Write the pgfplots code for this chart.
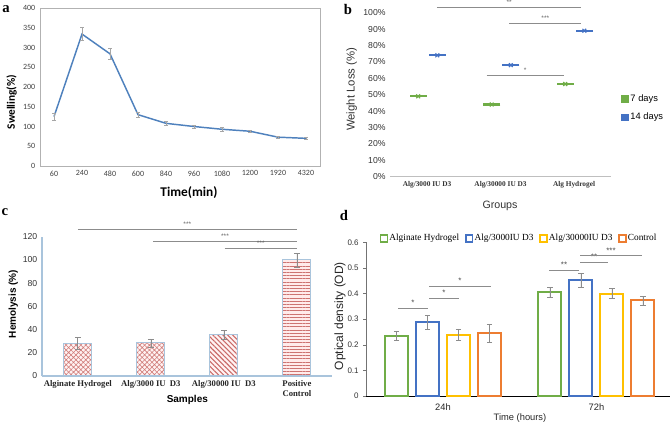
\documentclass[border=0pt]{standalone}
\usepackage{fontspec}
\setmainfont{Liberation Serif}
\newfontfamily\arial{Liberation Sans}
\newfontfamily\calibri{Carlito}
\usepackage{pgfplots}
\pgfplotsset{compat=1.18}
\usetikzlibrary{patterns.meta}
\definecolor{xlblue}{HTML}{4F81BD}
\definecolor{cgreen}{HTML}{70AD47}
\definecolor{cblue}{HTML}{4472C4}
\definecolor{cyellow}{HTML}{FFC000}
\definecolor{corange}{HTML}{ED7D31}
\definecolor{cred}{HTML}{C0504D}
\definecolor{cbord}{HTML}{A9C4DC}
\definecolor{sig}{HTML}{8C8C8C}
\pgfplotsset{sqlegend/.style={legend image code/.code={\draw[##1] (0pt,-2.5pt) rectangle (5pt,2.5pt);}}}
\begin{document}
\begin{tikzpicture}
\path[use as bounding box] (0,0) rectangle (504pt,319.5pt);

% ---------------- Panel a ----------------
\begin{axis}[
  at={(30pt,195pt)}, anchor=south west, scale only axis,
  width=210pt, height=118.5pt,
  xmin=-0.5, xmax=9.5, ymin=0, ymax=400,
  xtick={0,...,9},
  xticklabels={60,240,480,600,840,960,1080,1200,1920,4320},
  ytick={0,50,...,400},
  major tick length=0pt,
  axis line style={black!30},
  tick label style={font=\calibri\fontsize{6}{7}\selectfont, text=black!75},
  /pgf/number format/assume math mode=true,
  clip=false,
]
\addplot[xlblue, line width=1.1pt, mark=none,
  error bars/.cd, y dir=both, y explicit,
  error bar style={black!35, line width=0.5pt},
  error mark options={rotate=90, mark size=1.2pt, black!35}]
  coordinates {
    (0,125) +- (0,8)
    (1,334) +- (0,16)
    (2,284) +- (0,13)
    (3,130) +- (0,6)
    (4,108) +- (0,4)
    (5,100) +- (0,4)
    (6,93) +- (0,4)
    (7,88) +- (0,3)
    (8,73) +- (0,3)
    (9,70) +- (0,3)
  };
\end{axis}
\node[font=\bfseries\fontsize{11}{11}\selectfont] at (4.5pt,313pt) {a};
\node[font=\calibri\bfseries\fontsize{8.5}{9}\selectfont, rotate=90] at (8.75pt,243pt) {Swelling(\%)};
\node[font=\calibri\bfseries\fontsize{10}{11}\selectfont] at (141.75pt,175pt) {Time(min)};

% ---------------- Panel b ----------------
\begin{axis}[
  at={(292.7pt,187pt)}, anchor=south west, scale only axis,
  width=165.4pt, height=123pt,
  xmin=-0.5, xmax=2.5, ymin=0, ymax=100,
  axis lines*=left,
  y axis line style={draw=none},
  x axis line style={black!25},
  major tick length=0pt,
  xtick={0,1,2},
  xticklabels={Alg/3000 IU D3, Alg/30000 IU D3, Alg Hydrogel},
  ytick={0,10,...,100},
  yticklabel={\pgfmathprintnumber{\tick}\%},
  yticklabel style={font=\arial\fontsize{6.5}{7}\selectfont, text=black!80},
  xticklabel style={font=\bfseries\fontsize{5.5}{6}\selectfont, text=black!80},
  /pgf/number format/assume math mode=true,
  clip=false,
  legend style={at={(rel axis cs:1.03,0.42)}, anchor=west, draw=none, fill=none,
    font=\arial\fontsize{7}{8}\selectfont, row sep=3pt},
  legend cell align=left,
]
\addplot[only marks, cgreen, mark=-, mark size=6.5pt, line width=1.6pt, forget plot]
  coordinates {(-0.12,49) (0.88,44) (1.88,56.5)};
\addplot[only marks, cgreen, mark=x, mark size=2pt, line width=0.9pt, forget plot]
  coordinates {(-0.12,49) (0.88,44) (1.88,56.5)};
\addplot[only marks, cblue, mark=-, mark size=6.5pt, line width=1.6pt, forget plot]
  coordinates {(0.14,74) (1.14,68) (2.14,89)};
\addplot[only marks, cblue, mark=x, mark size=2pt, line width=0.9pt, forget plot]
  coordinates {(0.14,74) (1.14,68) (2.14,89)};
\addlegendimage{only marks, mark=square*, cgreen, mark size=2.3pt}
\addlegendentry{7 days}
\addlegendimage{only marks, mark=square*, cblue, mark size=2.3pt}
\addlegendentry{14 days}
\draw[sig, line width=0.6pt] (axis cs:0.135,103) -- (axis cs:2.1,103)
  node[midway, above=-1.5pt, font=\arial\fontsize{5}{5}\selectfont, text=black!60] {**};
\draw[sig, line width=0.6pt] (axis cs:1.12,93.7) -- (axis cs:2.1,93.7)
  node[midway, above=-1.5pt, font=\arial\fontsize{5}{5}\selectfont, text=black!60] {***};
\draw[sig, line width=0.6pt] (axis cs:0.81,62) -- (axis cs:1.86,62)
  node[midway, above=-1.5pt, font=\arial\fontsize{5}{5}\selectfont, text=black!60] {*};
\end{axis}
\node[font=\bfseries\fontsize{11}{11}\selectfont] at (261pt,312.5pt) {b};
\node[font=\arial\fontsize{8.5}{9}\selectfont, rotate=90, text=black!80] at (263.75pt,252.5pt) {Weight Loss (\%)};
\node[font=\arial\fontsize{8}{9}\selectfont, text=black!80] at (375pt,165pt) {Groups};

% ---------------- Panel c ----------------
\begin{axis}[
  at={(31.5pt,37.5pt)}, anchor=south west, scale only axis,
  width=217.5pt, height=104.5pt,
  xmin=-0.49, xmax=3.48, ymin=0, ymax=120,
  axis lines*=left,
  axis line style={cbord, line width=0.8pt},
  major tick length=0pt,
  xtick={0,1,2,3},
  xticklabels={Alginate Hydrogel, Alg/3000 IU\ \ D3, Alg/30000 IU\ \ D3, {Positive\\Control}},
  xticklabel style={font=\bfseries\fontsize{6.5}{7.5}\selectfont, align=center, text=black!85},
  ytick={0,20,...,120},
  yticklabel style={font=\arial\fontsize{6.5}{7}\selectfont, text=black!80},
  /pgf/number format/assume math mode=true,
  clip=false,
]
\addplot[ybar, bar width=21pt, bar shift=0pt, draw=cbord, line width=0.8pt, fill=red!5,
  postaction={pattern={Hatch[angle=45,distance=2.6pt,line width=0.45pt]}, pattern color=cred!75},
  error bars/.cd, y dir=both, y explicit,
  error bar style={black!45, line width=0.5pt},
  error mark options={rotate=90, mark size=2.2pt, black!45}]
  coordinates {(0,28) +- (0,5) (1,28.5) +- (0,3.5)};
\addplot[ybar, bar width=21pt, bar shift=0pt, draw=cbord, line width=0.8pt, fill=red!5,
  postaction={pattern={Lines[angle=-45,distance=2.6pt,line width=0.8pt]}, pattern color=cred!85},
  error bars/.cd, y dir=both, y explicit,
  error bar style={black!45, line width=0.5pt},
  error mark options={rotate=90, mark size=2.2pt, black!45}]
  coordinates {(2,35.5) +- (0,3.5)};
\addplot[ybar, bar width=21pt, bar shift=0pt, draw=cbord, line width=0.8pt, fill=red!8,
  postaction={pattern={Lines[angle=0,distance=2.4pt,line width=0.6pt]}, pattern color=cred!80},
  error bars/.cd, y dir=both, y explicit,
  error bar style={black!45, line width=0.5pt},
  error mark options={rotate=90, mark size=2.2pt, black!45}]
  coordinates {(3,100) +- (0,6)};
\draw[sig, line width=0.6pt] (axis cs:0,126.6) -- (axis cs:3,126.6)
  node[midway, above=-1.5pt, font=\arial\fontsize{5}{5}\selectfont, text=black!60] {***};
\draw[sig, line width=0.6pt] (axis cs:1.03,116) -- (axis cs:3,116)
  node[midway, above=-1.5pt, font=\arial\fontsize{5}{5}\selectfont, text=black!60] {***};
\draw[sig, line width=0.6pt] (axis cs:2.01,109.6) -- (axis cs:3,109.6)
  node[midway, above=-1.5pt, font=\arial\fontsize{5}{5}\selectfont, text=black!60] {***};
\end{axis}
\node[font=\bfseries\fontsize{11}{11}\selectfont] at (3.75pt,160.5pt) {c};
\node[font=\arial\bfseries\fontsize{7.5}{8}\selectfont, rotate=90] at (10pt,91.5pt) {Hemolysis (\%)};
\node[font=\arial\bfseries\fontsize{7.5}{8}\selectfont] at (140.5pt,19.5pt) {Samples};

% ---------------- Panel d ----------------
\begin{axis}[
  at={(274.5pt,22.5pt)}, anchor=south west, scale only axis,
  width=228pt, height=115.3pt,
  xmin=-0.5016, xmax=1.479, ymin=0, ymax=0.6,
  axis lines*=left,
  x axis line style={black, line width=0.6pt},
  y axis line style={black!55, line width=0.5pt},
  xtick={0,1}, xticklabels={24h,72h},
  x tick style={draw=none},
  extra x ticks={0.5}, extra x tick labels={},
  extra x tick style={tick align=inside, major tick length=2pt, black!60},
  ytick={0,0.1,...,0.6},
  y tick style={black!55},
  tick align=outside, major tick length=2pt,
  yticklabel style={font=\arial\fontsize{6}{7}\selectfont, text=black!80},
  xticklabel style={font=\arial\fontsize{7}{8}\selectfont, text=black!85},
  /pgf/number format/assume math mode=true,
  clip=false,
  legend columns=4,
  legend style={at={(rel axis cs:0.045,1.025)}, anchor=west, draw=none, fill=none,
    font=\fontsize{7}{7.5}\selectfont, inner xsep=0pt,
    /tikz/every even column/.append style={column sep=2.5pt},
    /tikz/every odd column/.append style={column sep=-1pt}},
  ebar/.style={error bars/.cd, y dir=both, y explicit,
    error bar style={black!45, line width=0.5pt},
    error mark options={rotate=90, mark size=2pt, black!45}},
]
\addplot[ybar, bar width=17.25pt, bar shift=0pt, draw=cgreen, line width=1.5pt, fill=white, forget plot, ebar]
  coordinates {(-0.303,0.235) +- (0,0.018) (0.697,0.405) +- (0,0.02)};
\addplot[ybar, bar width=17.25pt, bar shift=0pt, draw=cblue, line width=1.5pt, fill=white, forget plot, ebar]
  coordinates {(-0.101,0.287) +- (0,0.028) (0.899,0.452) +- (0,0.027)};
\addplot[ybar, bar width=17.25pt, bar shift=0pt, draw=cyellow, line width=1.5pt, fill=white, forget plot, ebar]
  coordinates {(0.101,0.240) +- (0,0.022) (1.101,0.400) +- (0,0.02)};
\addplot[ybar, bar width=17.25pt, bar shift=0pt, draw=corange, line width=1.5pt, fill=white, forget plot, ebar]
  coordinates {(0.303,0.246) +- (0,0.035) (1.303,0.373) +- (0,0.017)};
\addlegendimage{sqlegend, draw=cgreen, line width=1.1pt}
\addlegendentry{Alginate Hydrogel}
\addlegendimage{sqlegend, draw=cblue, line width=1.1pt}
\addlegendentry{Alg/3000IU D3}
\addlegendimage{sqlegend, draw=cyellow, line width=1.1pt}
\addlegendentry{Alg/30000IU D3}
\addlegendimage{sqlegend, draw=corange, line width=1.1pt}
\addlegendentry{Control}
\draw[sig, line width=0.6pt] (axis cs:-0.293,0.342) -- (axis cs:-0.098,0.342)
  node[midway, above=-1.5pt, font=\arial\fontsize{6}{6}\selectfont, text=black!70] {*};
\draw[sig, line width=0.6pt] (axis cs:-0.091,0.381) -- (axis cs:0.104,0.381)
  node[midway, above=-1.5pt, font=\arial\fontsize{6}{6}\selectfont, text=black!70] {*};
\draw[sig, line width=0.6pt] (axis cs:-0.091,0.427) -- (axis cs:0.313,0.427)
  node[midway, above=-1.5pt, font=\arial\fontsize{6}{6}\selectfont, text=black!70] {*};
\draw[sig, line width=0.6pt] (axis cs:0.691,0.492) -- (axis cs:0.886,0.492)
  node[midway, above=-1.5pt, font=\arial\fontsize{6}{6}\selectfont, text=black!70] {**};
\draw[sig, line width=0.6pt] (axis cs:0.893,0.521) -- (axis cs:1.075,0.521)
  node[midway, above=-1.5pt, font=\arial\fontsize{6}{6}\selectfont, text=black!70] {**};
\draw[sig, line width=0.6pt] (axis cs:0.893,0.547) -- (axis cs:1.296,0.547)
  node[midway, above=-1.5pt, font=\arial\fontsize{6}{6}\selectfont, text=black!70] {***};
\end{axis}
\node[font=\bfseries\fontsize{11}{11}\selectfont] at (258pt,158.25pt) {d};
\node[font=\arial\fontsize{9}{10}\selectfont, rotate=90, text=black!85] at (255pt,82.5pt) {Optical density (OD)};
\node[font=\arial\fontsize{7}{8}\selectfont, text=black!85] at (390pt,5.8pt) {Time (hours)};
\end{tikzpicture}
\end{document}
